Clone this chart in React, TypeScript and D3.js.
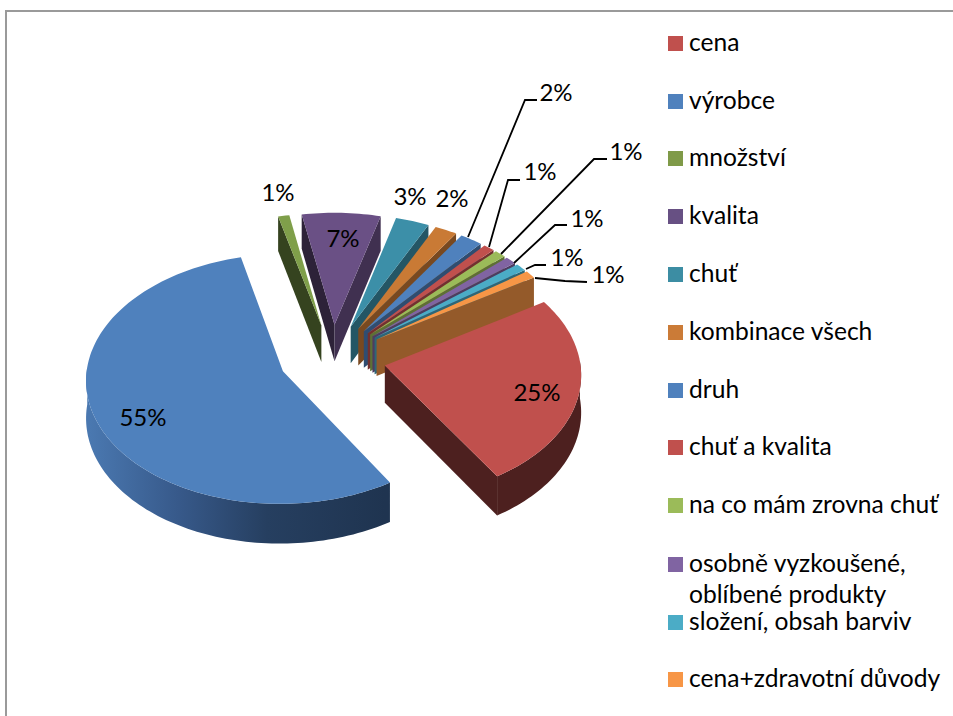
import React from 'react'
import * as d3 from 'd3'

const categories = [
  'cena',
  'výrobce',
  'množství',
  'kvalita',
  'chuť',
  'kombinace všech',
  'druh',
  'chuť a kvalita',
  'na co mám zrovna chuť',
  'osobně vyzkoušené, oblíbené produkty',
  'složení, obsah barviv',
  'cena+zdravotní důvody',
]
const values = [25, 55, 1, 7, 3, 2, 2, 1, 1, 1, 1, 1]
const faceColors = ['#c0504d', '#4f81bd', '#7f9f4a', '#6a5085', '#3c8fa8', '#c97a35', '#4f81bd', '#c0504d', '#9bbb59', '#8064a2', '#4bacc6', '#f79646']
const legendColors = ['#c0504d', '#4f81bd', '#7f9a48', '#675083', '#3c8da3', '#cb7b37', '#4f81bd', '#c0504d', '#9bbb59', '#8064a2', '#4bacc6', '#f79646']

// label anchor + leader elbow, same order as categories
const labelPos = [
  [537, 401], [143, 426], [278, 201], [343, 247], [410, 205], [452, 207],
  [556, 101], [540, 180], [626, 160], [587, 227], [567, 266], [608, 283],
]
const leaders: (number[][] | null)[] = [
  null, null, null, null, null, null,
  [[468, 237], [525, 100], [537, 100]],
  [[489, 247], [508, 180], [520, 180]],
  [[501, 254], [594, 159], [607, 159]],
  [[514, 263], [555, 225], [567, 225]],
  [[526, 269], [535, 265], [546, 265]],
  [[535, 278], [565, 281], [587, 282]],
]
const legendY = [43, 101, 158, 216, 274, 332, 390, 447, 505, 564, 622, 679]

const W = 953
const H = 716
const cx = 332.5
const cy = 358
const R = 195
const explode = 53.5
const depth = 37
const tilt = 0.63
const persp = 0.000313
const firstAngle = (58 * Math.PI) / 180
const FONT = 'Lato, Carlito, sans-serif'

// plane coords -> screen, z is drop below the top face
function project(px: number, py: number, z = 0): [number, number] {
  const s = 1 / (1 + persp * py)
  return [cx + px * s, cy - tilt * py * s + z * s]
}

function darken(c: string, k: number) {
  const o = d3.rgb(c)
  return d3.rgb(o.r * k, o.g * k, o.b * k).formatHex()
}

const arcs = d3
  .pie<number>()
  .sort(null)
  .startAngle(firstAngle)
  .endAngle(firstAngle + 2 * Math.PI)(values)

const line = d3.line()

type Face = { d: string; fill: string }

const sliceWalls: Face[][] = []
const tops: string[] = []

arcs.forEach((a, i) => {
  const mid = (a.startAngle + a.endAngle) / 2
  const ox = explode * Math.sin(mid)
  const oy = explode * Math.cos(mid)
  const n = Math.max(3, Math.ceil((a.endAngle - a.startAngle) * 40))
  const angles = d3.range(n + 1).map((k) => a.startAngle + ((a.endAngle - a.startAngle) * k) / n)
  const rim = (ts: number[], z: number) =>
    ts.map((t) => project(ox + R * Math.sin(t), oy + R * Math.cos(t), z))
  const apex = (z: number) => project(ox, oy, z)
  const base = faceColors[i]
  const walls: Face[] = []

  // only walls that face the viewer get drawn
  const front = angles.filter((t) => Math.cos(t) < 0.05)
  if (front.length > 1) {
    const outer = [...rim(front, 0), ...rim(front, depth).reverse()] as [number, number][]
    walls.push({ d: line(outer) + 'Z', fill: i === 1 ? 'url(#wallShade)' : darken(base, 0.4) })
  }
  if (Math.sin(a.startAngle) < 0) {
    const t = a.startAngle
    const q = [apex(0), ...rim([t], 0), ...rim([t], depth), apex(depth)] as [number, number][]
    walls.push({ d: line(q) + 'Z', fill: darken(base, 0.42) })
  }
  if (Math.sin(a.endAngle) > 0) {
    const t = a.endAngle
    const q = [apex(0), ...rim([t], 0), ...rim([t], depth), apex(depth)] as [number, number][]
    walls.push({ d: line(q) + 'Z', fill: darken(base, Math.cos(t) < 0 ? 0.4 : 0.6) })
  }
  sliceWalls.push(walls)
  tops.push(line([apex(0), ...rim(angles, 0)] as [number, number][]) + 'Z')
})

// far slices first, each with walls then top
const drawOrder = d3.range(arcs.length).sort((p, q) => {
  const mp = (arcs[p].startAngle + arcs[p].endAngle) / 2
  const mq = (arcs[q].startAngle + arcs[q].endAngle) / 2
  return Math.cos(mq) - Math.cos(mp)
})

export default function App() {
  return (
    <svg
      width={W}
      height={H}
      viewBox={`0 0 ${W} ${H}`}
      style={{ position: 'absolute', left: 0, top: 0, background: '#fff' }}
    >
      <defs>
        <linearGradient id="wallShade" gradientUnits="userSpaceOnUse" x1={90} x2={385} y1={0} y2={0}>
          <stop offset="0" stopColor="#4a78b0" />
          <stop offset="0.3" stopColor="#37598a" />
          <stop offset="0.6" stopColor="#263f60" />
          <stop offset="1" stopColor="#1f3450" />
        </linearGradient>
      </defs>
      <path d={`M${W} 11H6V${H}`} fill="none" stroke="#9a9a9a" strokeWidth={2} />

      {drawOrder.map((i) => (
        <g key={i}>
          {sliceWalls[i].map((f, j) => (
            <path key={j} d={f.d} fill={f.fill} />
          ))}
          <path d={tops[i]} fill={faceColors[i]} />
        </g>
      ))}

      {leaders.map((l, i) =>
        l ? <path key={i} d={line(l as [number, number][]) ?? ''} fill="none" stroke="#000" strokeWidth={1.8} /> : null
      )}

      {values.map((v, i) => (
        <text key={i} x={labelPos[i][0]} y={labelPos[i][1]} fontFamily={FONT} fontSize={24} textAnchor="middle" fill="#000">
          {v}%
        </text>
      ))}

      {categories.map((c, i) => {
        const y = legendY[i]
        const lines = i === 9 ? ['osobně vyzkoušené,', 'oblíbené produkty'] : [c]
        return (
          <g key={c}>
            <rect x={668} y={y - 7} width={15} height={15} fill={legendColors[i]} />
            {lines.map((t, j) => (
              <text key={j} x={689} y={y + 8 + j * 31} fontFamily={FONT} fontSize={24.6} fill="#000">
                {t}
              </text>
            ))}
          </g>
        )
      })}
    </svg>
  )
}
